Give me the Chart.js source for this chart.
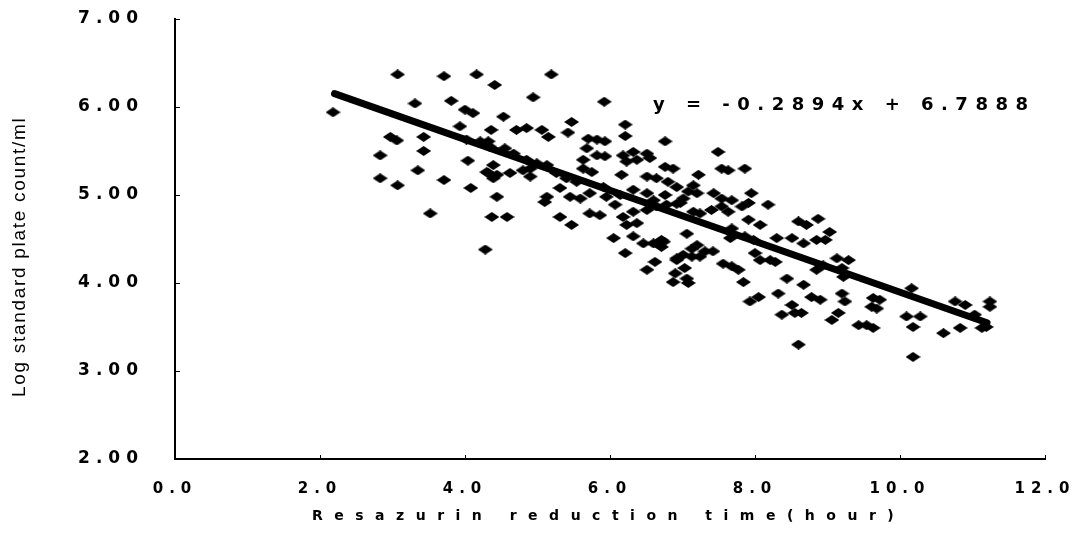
<!DOCTYPE html>
<html>
<head>
<meta charset="utf-8">
<title>Resazurin reduction time vs log plate count</title>
<script src="https://cdn.jsdelivr.net/npm/chart.js@4.4.1/dist/chart.umd.min.js"></script>
<style>
  html, body { margin: 0; padding: 0; background: #fff; }
  .chart-box { position: relative; width: 1078px; height: 535px; }
</style>
</head>
<body>
<div class="chart-box"><canvas id="myChart"></canvas></div>
<script>
// reduction time (hour) for each milk sample
const timeHours = [
  2.18,3.07,3.71,4.16,4.41,3.31,3.81,4.00,4.11,3.93,
  4.36,2.97,3.06,3.43,4.02,4.32,2.83,3.43,4.04,4.39,
  3.35,2.83,3.07,3.71,4.32,4.39,4.08,4.44,3.52,4.37,
  4.28,5.19,4.94,5.92,4.53,5.47,6.21,4.71,4.85,5.06,
  5.15,5.42,6.21,5.70,5.82,5.93,6.76,4.21,4.34,4.55,
  4.67,5.68,5.63,5.82,5.93,6.18,6.32,6.51,6.55,6.37,
  6.23,4.85,4.90,4.80,4.99,5.13,6.76,6.87,4.30,4.44,
  4.62,4.90,5.26,5.40,5.54,5.63,5.75,6.16,6.51,6.64,
  6.80,6.92,5.13,5.31,5.45,5.59,5.72,5.91,5.95,6.14,
  6.32,6.51,6.60,6.76,6.07,6.92,5.10,4.58,5.31,5.47,
  5.72,5.86,6.18,6.32,6.51,6.64,6.78,6.23,6.37,6.05,
  6.32,6.46,6.60,6.71,6.21,6.51,6.62,6.92,6.90,6.87,
  7.49,7.54,7.63,7.86,7.22,7.15,7.08,7.20,7.01,6.97,
  7.43,7.54,7.68,7.95,7.54,7.63,7.91,7.82,8.18,7.40,
  7.15,7.24,7.91,8.07,8.60,8.71,8.87,7.06,7.68,7.66,
  7.86,7.98,8.30,8.51,8.67,8.85,9.03,8.97,6.74,6.71,
  7.20,7.13,7.31,7.42,7.01,6.92,7.13,7.24,8.00,8.07,
  8.21,8.28,7.56,7.68,7.77,9.13,9.29,9.20,8.85,8.94,
  7.03,7.06,7.08,7.84,8.44,8.67,8.32,8.05,7.93,8.78,
  8.90,9.20,9.24,8.51,8.55,8.37,8.64,9.06,9.15,9.43,
  8.60,9.22,9.63,9.61,9.72,9.68,9.54,9.63,10.16,10.09,
  10.28,10.18,10.60,10.76,10.90,10.83,11.03,11.24,11.24,11.13,
  11.19,10.18
];

// log standard plate count per ml, same order
const logCount = [
  5.94,6.37,6.35,6.37,6.25,6.04,6.07,5.97,5.93,5.78,
  5.74,5.66,5.62,5.66,5.63,5.61,5.45,5.50,5.39,5.34,
  5.28,5.19,5.11,5.17,5.25,5.19,5.08,4.98,4.79,4.75,
  4.38,6.37,6.11,6.06,5.89,5.83,5.80,5.74,5.76,5.74,
  5.66,5.71,5.67,5.64,5.63,5.61,5.61,5.61,5.55,5.53,
  5.47,5.53,5.40,5.45,5.44,5.45,5.49,5.47,5.42,5.40,
  5.38,5.40,5.30,5.28,5.36,5.34,5.32,5.30,5.26,5.23,
  5.25,5.21,5.25,5.19,5.15,5.30,5.26,5.23,5.21,5.19,
  5.15,5.09,4.98,5.08,4.98,4.96,5.02,5.09,4.98,5.00,
  5.06,5.02,4.94,5.00,4.89,4.90,4.92,4.75,4.75,4.66,
  4.79,4.77,4.75,4.81,4.83,4.87,4.89,4.66,4.68,4.51,
  4.53,4.45,4.45,4.49,4.34,4.15,4.24,4.26,4.11,4.01,
  5.49,5.30,5.28,5.30,5.23,5.11,5.04,5.02,4.96,4.91,
  5.02,4.96,4.94,5.02,4.87,4.81,4.91,4.87,4.89,4.83,
  4.81,4.79,4.72,4.66,4.70,4.66,4.73,4.56,4.62,4.51,
  4.53,4.49,4.51,4.51,4.45,4.49,4.58,4.49,4.47,4.41,
  4.43,4.39,4.36,4.36,4.32,4.28,4.30,4.30,4.34,4.26,
  4.26,4.24,4.22,4.19,4.15,4.28,4.26,4.17,4.15,4.20,
  4.17,4.05,4.00,4.01,4.05,3.98,3.88,3.84,3.79,3.84,
  3.81,3.88,3.79,3.75,3.66,3.64,3.66,3.58,3.66,3.52,
  3.30,4.07,3.83,3.73,3.81,3.71,3.52,3.49,3.94,3.62,
  3.62,3.50,3.43,3.79,3.75,3.49,3.64,3.79,3.73,3.49,
  3.50,3.16
];

const xTicks = [0, 2, 4, 6, 8, 10, 12];
const yTicks = [2, 3, 4, 5, 6, 7];

// linear fit
const slope = -0.2894;
const intercept = 6.7888;
const fitRange = [2.2, 11.2];

const xTitle = 'Resazurin reduction time(hour)';
const yTitle = 'Log standard plate count/ml';
const equation = 'y = -0.2894x + 6.7888';

// flat diamond marker
const diamond = document.createElement('canvas');
diamond.width = 15;
diamond.height = 10;
const dctx = diamond.getContext('2d');
dctx.fillStyle = '#000';
dctx.beginPath();
dctx.moveTo(7.5, 0);
dctx.lineTo(15, 5);
dctx.lineTo(7.5, 10);
dctx.lineTo(0, 5);
dctx.closePath();
dctx.fill();

const points = timeHours.map((t, i) => ({ x: t, y: logCount[i] }));
const fitLine = fitRange.map(t => ({ x: t, y: slope * t + intercept }));

const BOLD = '"DejaVu Sans", Verdana, sans-serif';
const PLAIN = '"Liberation Sans", Arial, Helvetica, sans-serif';

const paperText = {
  id: 'paperText',
  beforeDraw(chart) {
    // spaced out tick labels
    chart.ctx.letterSpacing = '6px';
  },
  afterDraw(chart) {
    const ctx = chart.ctx;
    const { left, bottom } = chart.chartArea;
    const xs = chart.scales.x;
    const ys = chart.scales.y;
    ctx.save();
    ctx.strokeStyle = '#000';
    ctx.lineWidth = 1;
    // small inward tick marks
    yTicks.forEach(v => {
      const py = Math.round(ys.getPixelForValue(v)) + 0.5;
      ctx.beginPath();
      ctx.moveTo(left, py);
      ctx.lineTo(left + 5, py);
      ctx.stroke();
    });
    xTicks.forEach(v => {
      const px = Math.round(xs.getPixelForValue(v)) + 0.5;
      ctx.beginPath();
      ctx.moveTo(px, bottom);
      ctx.lineTo(px, bottom - 4);
      ctx.stroke();
    });

    ctx.fillStyle = '#000';
    ctx.textAlign = 'left';
    ctx.textBaseline = 'alphabetic';

    ctx.font = 'bold 14px ' + BOLD;
    ctx.letterSpacing = '11.5px';
    ctx.fillText(xTitle, 312, 520);

    ctx.font = 'bold 18px ' + BOLD;
    ctx.letterSpacing = '7.5px';
    ctx.fillText(equation, 653, 110);

    ctx.translate(24.5, 397);
    ctx.rotate(-Math.PI / 2);
    ctx.font = '19px ' + PLAIN;
    ctx.letterSpacing = '1.7px';
    ctx.fillText(yTitle, 0, 0);
    ctx.restore();
    ctx.letterSpacing = '0px';
  }
};

const config = {
  type: 'scatter',
  data: {
    datasets: [
      {
        label: 'samples',
        data: points,
        pointStyle: diamond,
        pointRadius: 6,
        pointHoverRadius: 6
      },
      {
        label: 'fit',
        data: fitLine,
        showLine: true,
        borderColor: '#000',
        borderWidth: 7,
        borderCapStyle: 'round',
        pointRadius: 0,
        pointHoverRadius: 0
      }
    ]
  },
  options: {
    responsive: true,
    maintainAspectRatio: false,
    animation: false,
    events: [],
    layout: { padding: { left: 0, right: 33, top: 19, bottom: 0 } },
    plugins: {
      legend: { display: false },
      tooltip: { enabled: false }
    },
    scales: {
      x: {
        type: 'linear',
        min: 0,
        max: 12,
        grid: { display: false, drawTicks: false },
        border: { display: true, color: '#000', width: 2 },
        afterBuildTicks: s => { s.ticks = xTicks.map(v => ({ value: v })); },
        afterFit: s => { s.height = 76; s.paddingLeft = 0; s.paddingRight = 0; },
        ticks: {
          autoSkip: false,
          maxRotation: 0,
          padding: 21,
          color: '#000',
          font: { family: BOLD, size: 15, weight: 'bold' },
          callback: v => Number(v).toFixed(1)
        }
      },
      y: {
        type: 'linear',
        min: 2,
        max: 7,
        grid: { display: false, drawTicks: false },
        border: { display: true, color: '#000', width: 2 },
        afterBuildTicks: s => { s.ticks = yTicks.map(v => ({ value: v })); },
        afterFit: s => { s.width = 175; s.paddingTop = 0; s.paddingBottom = 0; },
        ticks: {
          autoSkip: false,
          padding: 31,
          color: '#000',
          font: { family: BOLD, size: 17, weight: 'bold' },
          callback: v => Number(v).toFixed(2)
        }
      }
    }
  },
  plugins: [paperText]
};

const myChart = new Chart(document.getElementById('myChart'), config);
</script>
</body>
</html>
